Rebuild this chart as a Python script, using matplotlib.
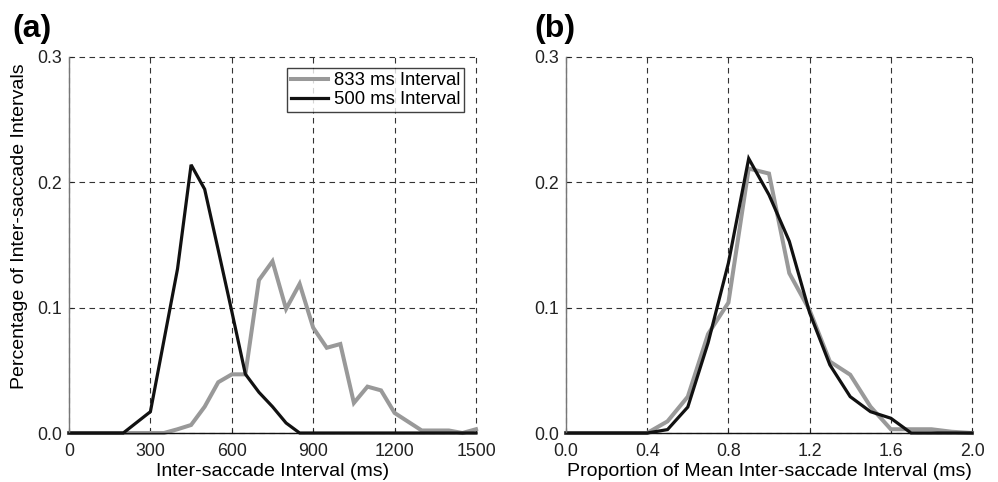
import matplotlib
matplotlib.use("Agg")
import matplotlib.pyplot as plt
from matplotlib.ticker import FormatStrFormatter

plt.rcParams['font.family'] = ['Liberation Sans', 'DejaVu Sans']

# ---- data ----
isi_ms = [0, 50, 100, 150, 200, 250, 300, 350, 400, 450, 500, 550, 600, 650, 700,
          750, 800, 850, 900, 950, 1000, 1050, 1100, 1150, 1200, 1250, 1300, 1350,
          1400, 1450, 1500]
pct_833 = [0, 0, 0, 0, 0, 0, 0, 0, 0.003, 0.0064, 0.021, 0.0405, 0.0468, 0.0468,
           0.122, 0.137, 0.099, 0.119, 0.084, 0.068, 0.071, 0.024, 0.037, 0.034,
           0.016, 0.009, 0.002, 0.002, 0.002, 0.0, 0.003]
pct_500 = [0, 0, 0, 0, 0, 0.0085, 0.017, 0.074, 0.131, 0.214, 0.1945, 0.146, 0.097,
           0.047, 0.0325, 0.021, 0.008, 0, 0, 0, 0, 0, 0, 0, 0, 0, 0, 0, 0, 0, 0]

prop = [0.0, 0.1, 0.2, 0.3, 0.4, 0.5, 0.6, 0.7, 0.8, 0.9, 1.0, 1.1, 1.2, 1.3, 1.4,
        1.5, 1.6, 1.7, 1.8, 1.9, 2.0]
prop_833 = [0, 0, 0, 0, 0, 0.0093, 0.029, 0.079, 0.104, 0.211, 0.207, 0.1275, 0.098,
            0.057, 0.0465, 0.021, 0.003, 0.003, 0.003, 0.001, 0]
prop_500 = [0, 0, 0, 0, 0, 0.0027, 0.0207, 0.072, 0.1356, 0.219, 0.190, 0.153, 0.096,
            0.0543, 0.029, 0.017, 0.0118, 0, 0, 0, 0]

xticks_a = [0, 300, 600, 900, 1200, 1500]
xticks_b = [0.0, 0.4, 0.8, 1.2, 1.6, 2.0]
yticks = [0.0, 0.1, 0.2, 0.3]
labels = ['833 ms Interval', '500 ms Interval']

GRAY = '#999999'
BLACK = '#111111'
TICK_FS = 12.8
LABEL_FS = 14

fig = plt.figure(figsize=(9.98, 4.82), dpi=100)
axA = fig.add_axes([69/998, 1-433/482, 407/998, 376/482])
axB = fig.add_axes([566/998, 1-433/482, 406/998, 376/482])

for ax in (axA, axB):
    ax.spines['top'].set_visible(False)
    ax.spines['right'].set_visible(False)
    ax.spines['left'].set_color('#777777')
    ax.spines['left'].set_linewidth(1.0)
    ax.spines['bottom'].set_color('#111111')
    ax.spines['bottom'].set_linewidth(1.0)
    ax.grid(True, linestyle=(0, (5, 4)), color='#333333', linewidth=0.8)
    ax.set_axisbelow(True)
    ax.tick_params(direction='in', length=3, width=0.8, labelsize=TICK_FS,
                   colors='#222222')
    ax.tick_params(axis='y', pad=5)
    ax.tick_params(axis='x', pad=7)
    ax.set_ylim(0, 0.3)
    ax.set_yticks(yticks)
    ax.yaxis.set_major_formatter(FormatStrFormatter('%.1f'))

axA.plot(isi_ms, pct_833, color=GRAY, lw=2.9, label=labels[0], clip_on=False,
         solid_joinstyle='miter')
axA.plot(isi_ms, pct_500, color=BLACK, lw=2.3, label=labels[1], clip_on=False,
         solid_joinstyle='miter')
axA.set_xlim(0, 1500)
axA.set_xticks(xticks_a)
axA.set_xlabel('Inter-saccade Interval (ms)', fontsize=LABEL_FS, labelpad=2.5)
axA.set_ylabel('Percentage of Inter-saccade Intervals', fontsize=LABEL_FS)
axA.yaxis.set_label_coords(-0.10, 0.55)
leg = axA.legend(loc='upper right', bbox_to_anchor=(0.97, 0.97), borderaxespad=0,
                 fontsize=13.3, frameon=True, fancybox=False, handlelength=2.0,
                 handletextpad=0.3, labelspacing=0.12, borderpad=0.2)
leg.get_frame().set_edgecolor('#111111')
leg.get_frame().set_linewidth(1.0)

axB.plot(prop, prop_833, color=GRAY, lw=2.9, clip_on=False, solid_joinstyle='miter')
axB.plot(prop, prop_500, color=BLACK, lw=2.3, clip_on=False, solid_joinstyle='miter')
axB.set_xlim(0, 2.0)
axB.set_xticks(xticks_b)
axB.xaxis.set_major_formatter(FormatStrFormatter('%.1f'))
axB.set_xlabel('Proportion of Mean Inter-saccade Interval (ms)', fontsize=LABEL_FS,
               labelpad=2.5)

for ax in (axA, axB):
    for gl in ax.get_xgridlines() + ax.get_ygridlines():
        gl.set_clip_on(False)

fig.text(12/998, 1-37/482, '(a)', fontsize=23, fontweight='bold', ha='left', va='baseline')
fig.text(534/998, 1-37/482, '(b)', fontsize=23, fontweight='bold', ha='left', va='baseline')

fig.savefig('out.png', dpi=100)
